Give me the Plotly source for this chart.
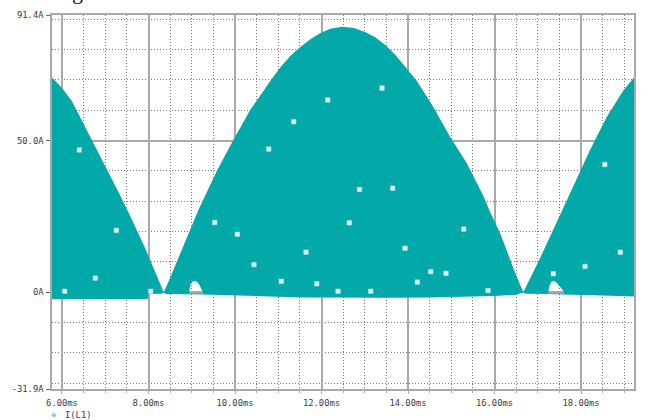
import numpy as np
import plotly.graph_objects as go

TEAL = "#03a8a8"

# Upper envelope of the I(L1) ripple band: time (ms), current (A)
env_t = [5.769, 6.0, 6.231, 6.45, 6.694, 7.001, 7.311, 7.618, 7.926, 8.157, 8.351,
         8.467, 8.851, 9.161, 9.577, 9.961, 10.347, 10.6, 10.849, 11.064, 11.3,
         11.503, 11.75, 11.965, 12.2, 12.474, 12.75, 13.006, 13.25, 13.468,
         13.7, 13.891, 14.201, 14.585, 14.971, 15.357, 15.741, 15.896, 16.127,
         16.289, 16.474, 16.666,
         17.052, 17.438, 17.822, 18.208, 18.594, 18.8, 18.978, 19.225]
env_hi = [70.8, 67.3, 63.0, 57.0, 50.2, 41.8, 32.9, 23.9, 14.4, 6.6, 0.0,
          3.6, 16.6, 27.4, 39.9, 50.2, 60.0, 65.4, 70.3, 74.4, 78.2,
          80.8, 83.5, 85.4, 86.9, 87.5, 87.1, 85.8, 84.0, 81.6,
          78.4, 75.1, 69.7, 61.1, 51.3, 42.6, 31.8, 26.5, 19.5,
          13.5, 6.5, 0.0,
          11.2, 23.1, 35.0, 46.9, 57.8, 62.5, 66.5, 70.8]

# Lower edge of the ripple band (ringing just below zero)
low_t = [5.769, 6.5, 7.2, 7.98, 8.0, 8.30, 8.351, 8.40, 8.9, 9.4, 10.0,
         10.8, 11.6, 12.5, 13.5, 14.5, 15.3, 16.0, 16.5, 16.666, 16.72,
         17.2, 17.7, 18.3, 19.225]
low_i = [-2.3, -2.2, -2.3, -2.2, -0.6, -0.5, 0.0, -0.6, -0.7, -0.8, -1.1,
         -1.4, -1.7, -1.8, -1.8, -1.7, -1.5, -1.2, -0.8, 0.0, -0.5,
         -0.6, -0.8, -1.0, -1.4]

# Gaps in the band just after each zero crossing (minimum current above zero)
notch_t = [[8.94, 8.96, 8.99, 9.04, 9.10, 9.16, 9.21, 9.26],
           [17.24, 17.27, 17.31, 17.36, 17.42, 17.48, 17.55, 17.61]]
notch_i = [[0.0, 2.0, 3.3, 3.7, 3.6, 2.8, 1.5, 0.0],
           [0.0, 2.2, 3.4, 3.7, 3.4, 2.5, 1.2, 0.0]]
notch_base = -0.3

# Trace symbols placed along I(L1)
mark_t = [6.062, 6.400, 6.770, 7.256, 8.051, 9.531, 10.053, 10.439, 10.779,
          11.071, 11.357, 11.642, 11.889, 12.143, 12.382, 12.643, 12.879,
          13.138, 13.399, 13.646, 13.931, 14.215, 14.525, 14.879, 15.288,
          15.850, 17.360, 18.092, 18.548, 18.909]
mark_i = [0.33, 46.9, 4.65, 20.4, 0.33, 23.0, 19.1, 9.1, 47.2,
          3.6, 56.2, 13.2, 2.8, 63.4, 0.33, 22.9, 33.9,
          0.33, 67.3, 34.3, 14.5, 3.35, 6.8, 6.2, 20.8,
          0.55, 6.1, 8.5, 42.1, 13.2]

x_ticks = [6, 8, 10, 12, 14, 16, 18]
x_labels = ["6.00ms", "8.00ms", "10.00ms", "12.00ms", "14.00ms", "16.00ms", "18.00ms"]
y_ticks = [-31.9, 0, 50, 91.4]
y_labels = ["-31.9A", "0A", "50.0A", "91.4A"]

X_RANGE = [5.769, 19.225]
Y_RANGE = [-31.9, 91.4]


def band_outline():
    """Closed outline: upper envelope left->right, lower edge right->left,
    with each notch cut out as a hole through a zero-width slit."""
    xs, ys = list(env_t), list(env_hi)
    lower = sorted(zip(low_t, low_i), reverse=True)
    pending = sorted(range(len(notch_t)), key=lambda k: -notch_t[k][-1])
    for t, a in lower:
        while pending and notch_t[pending[0]][-1] > t:
            k = pending.pop(0)
            tr, tl = notch_t[k][-1], notch_t[k][0]
            a_r = float(np.interp(tr, low_t, low_i))
            xs += [tr, tr]
            ys += [a_r, notch_base]
            for nt, ni in zip(notch_t[k][::-1], notch_i[k][::-1]):
                xs.append(nt)
                ys.append(max(ni, notch_base))
            xs += [tl, tr, tr]
            ys += [notch_base, notch_base, a_r]
        xs.append(t)
        ys.append(a)
    xs.append(env_t[0])
    ys.append(env_hi[0])
    return xs, ys


bx, by = band_outline()

fig = go.Figure()
fig.add_trace(go.Scatter(
    x=bx, y=by, mode="lines", fill="toself", fillcolor=TEAL,
    line=dict(width=0, color=TEAL),
    hoverinfo="skip", showlegend=False,
))
fig.add_trace(go.Scatter(
    x=mark_t, y=mark_i, mode="markers", showlegend=False,
    marker=dict(symbol="square", size=4.5, color="#e4f7f7",
                line=dict(width=0.6, color="#a8e4e4")),
))

grid_major = "#a9a9a9"
grid_minor = "#7a7a7a"
tick_font = dict(family="DejaVu Sans Mono", size=8.8, color="#3c3c3c")

fig.update_xaxes(
    range=X_RANGE, tickmode="array", tickvals=x_ticks, ticktext=x_labels,
    showgrid=True, gridcolor=grid_major, gridwidth=1.5,
    showline=True, mirror=True, linecolor=grid_major, linewidth=1.5,
    ticks="outside", ticklen=3, tickcolor=grid_major, tickwidth=1,
    tickfont=tick_font, zeroline=False, ticklabelstandoff=2,
    minor=dict(tick0=0, dtick=0.5, showgrid=True, gridcolor=grid_minor,
               griddash="1px,2px", gridwidth=1, ticks="outside", ticklen=2,
               tickcolor=grid_major),
)
fig.update_yaxes(
    range=Y_RANGE, tickmode="array", tickvals=y_ticks, ticktext=y_labels,
    showgrid=True, gridcolor=grid_major, gridwidth=1.5,
    showline=True, mirror=True, linecolor=grid_major, linewidth=1.5,
    ticks="outside", ticklen=4, tickcolor="#666666", tickwidth=1,
    tickfont=tick_font, zeroline=False, ticklabelstandoff=1,
    minor=dict(tick0=0, dtick=10, showgrid=True, gridcolor=grid_minor,
               griddash="1px,2px", gridwidth=1),
)

# Plot area in pixels: left 52, right 634, top 10, bottom 389
PW, PH = 582.0, 379.0


def px_to_paper(px, py):
    return (px - 52) / PW, (389 - py) / PH


lx, ly = px_to_paper(54, 415)
tx, ty = px_to_paper(63, 415)
gx, gy = px_to_paper(77, 1)

fig.add_annotation(x=lx, y=ly, xref="paper", yref="paper", text="\u25c6",
                   showarrow=False, xanchor="center", yanchor="middle",
                   font=dict(family="DejaVu Sans", size=7, color="#7fd6d6"))
fig.add_annotation(x=tx, y=ty, xref="paper", yref="paper", text="I(L1)",
                   showarrow=False, xanchor="left", yanchor="middle",
                   font=dict(family="DejaVu Sans Mono", size=8.8, color="#3c3c3c"))
# Bottom of the page heading above the plot
fig.add_annotation(x=gx, y=gy, xref="paper", yref="paper", text="g",
                   showarrow=False, xanchor="center", yanchor="bottom",
                   font=dict(family="Liberation Serif", size=22, color="#111111"))

fig.update_layout(
    width=648, height=420, autosize=False,
    margin=dict(l=52, r=14, t=10, b=31, pad=0),
    paper_bgcolor="white", plot_bgcolor="white",
    showlegend=False,
)

fig.write_html("out.html")
